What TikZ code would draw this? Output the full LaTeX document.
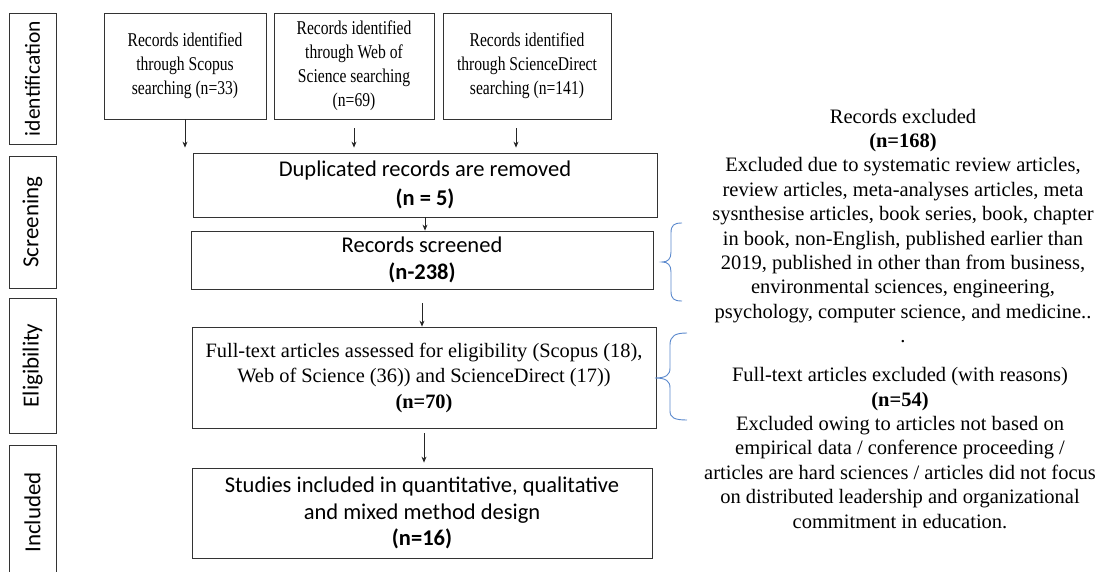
\documentclass[tikz,border=0pt]{standalone}
\usepackage{fontspec}
\setmainfont{Liberation Serif}
\newfontfamily\calibri{Carlito}
\newfontfamily\narrowserif[FakeStretch=0.8]{Liberation Serif}
\usetikzlibrary{arrows.meta}
\definecolor{braceblue}{RGB}{91,137,205}

\begin{document}
\begin{tikzpicture}[
      x=1pt, y=-1pt,
      line width=.8pt,
      box/.style={draw=black!80, inner sep=0pt, align=center},
      phase/.style={draw=black!80, inner sep=0pt, rotate=90, minimum height=47pt,
        font=\calibri\fontsize{23}{27}\selectfont},
      source/.style={box, minimum height=106pt,
        font=\narrowserif\fontsize{19.5}{24}\selectfont},
      flow/.style={-{Stealth[length=6pt,width=5pt]}, black!85},
      bracket/.style={draw=braceblue, line width=.9pt},
      note/.style={align=center, inner sep=0pt, font=\fontsize{20.5}{24.4}\selectfont}]

    % page frame
    \useasboundingbox (0,0) rectangle (1096,572);
    \clip (0,0) rectangle (1096,572);

    % phases x=32
    \node (identification) at (32.5,78.5) [phase, minimum width=131pt,
      font=\calibri\fontsize{21.5}{25}\selectfont] {identification};
    \node (screening) at (32.5,222) [phase, minimum width=132pt] {Screening};
    \node (eligibility) at (32.5,365.5) [phase, minimum width=135pt] {Eligibility};
    \node (includedphase) at (32.5,512.5) [phase, minimum width=135pt] {Included};

    % sources y=66
    \node (scopus) at (185,66) [source, minimum width=162pt]
      {Records identified\\through Scopus\\searching (n=33)};
    \node (wos) at (354,66) [source, minimum width=160pt]
      {Records identified\\through Web of\\Science searching\\(n=69)};
    \node (sciencedirect) at (527,66) [source, minimum width=168pt]
      {Records identified\\through ScienceDirect\\searching (n=141)};

    % screening
    \node (duplicates) at (425,185) [box, minimum width=464pt, minimum height=64pt,
      font=\calibri\fontsize{22.5}{29}\selectfont]
      {Duplicated records are removed\\\textbf{(n = 5)}};
    \node (screened) at (422,260) [box, minimum width=462pt, minimum height=58pt,
      font=\calibri\fontsize{22.5}{27}\selectfont]
      {Records screened\\\textbf{(n-238)}};

    % eligibility & included
    \node (fulltext) at (424,377.5) [box, minimum width=464pt, minimum height=101pt,
      font=\fontsize{20.4}{25.5}\selectfont]
      {Full-text articles assessed for eligibility (Scopus (18),\\Web of Science (36)) and ScienceDirect (17))\\\textbf{(n=70)}};
    \node (studies) at (422,513) [box, minimum width=460pt, minimum height=90pt,
      font=\calibri\fontsize{22.5}{26.5}\selectfont]
      {Studies included in quantitative, qualitative\\and mixed method design\\\textbf{(n=16)}};

    % exclusions
    \node (recexcl) at (903,226) [note]
      {Records excluded\\\textbf{(n=168)}\\Excluded due to systematic review articles,\\review articles, meta-analyses articles, meta\\sysnthesise articles, book series, book, chapter\\in book, non-English, published earlier than\\2019, published in other than from business,\\environmental sciences, engineering,\\psychology, computer science, and medicine..\\.};
    \node (fullexcl) at (900,448) [note]
      {Full-text articles excluded (with reasons)\\\textbf{(n=54)}\\Excluded owing to articles not based on\\empirical data / conference proceeding /\\articles are hard sciences / articles did not focus\\on distributed leadership and organizational\\commitment in education.};

    % wiring
    \draw[flow, shorten >=5pt] (scopus.south) -- (scopus.south |- duplicates.north);
    \draw[flow, shorten <=9pt, shorten >=5pt] (wos.south) -- (wos.south |- duplicates.north);
    \draw[flow, shorten <=9pt, shorten >=5pt] ([xshift=-11pt]sciencedirect.south) -- ([xshift=-11pt]sciencedirect.south |- duplicates.north);
    \draw[flow] (duplicates.south) -- (duplicates.south |- screened.north);
    \draw[flow, shorten <=14pt] (screened.south) -- (screened.south |- fulltext.north);
    \draw[flow, shorten <=5pt, shorten >=5pt] (fulltext.south) -- (fulltext.south |- studies.north);

    % braces
    \draw[bracket] (682,223) .. controls (674,223) and (671,225) .. (671,233) -- (671,252)
      .. controls (671,259) and (668,262) .. (662,262)
      .. controls (668,262) and (671,265) .. (671,272) -- (671,291)
      .. controls (671,299) and (674,301) .. (682,301);
    \draw[bracket] (687,333) .. controls (675,333) and (670,336) .. (670,345) -- (670,368)
      .. controls (670,375) and (666,378) .. (655,378)
      .. controls (666,378) and (670,381) .. (670,388) -- (670,411)
      .. controls (670,418) and (675,420) .. (687,420);

  \end{tikzpicture}
\end{document}
